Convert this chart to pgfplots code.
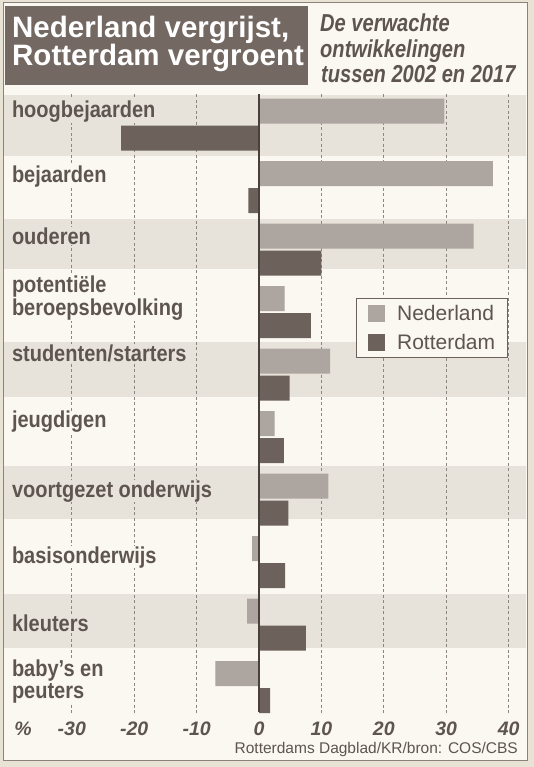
\documentclass[border=0pt]{standalone}
\usepackage{fontspec}
\setmainfont{Liberation Sans}
\usepackage{graphicx}
\usepackage{pgfplots}
\pgfplotsset{compat=1.18}
\usepackage{pgfplotstable}

\definecolor{paper}{HTML}{E9E3D6}
\definecolor{cream}{HTML}{FAF8F1}
\definecolor{stripe}{HTML}{E7E3DB}
\definecolor{nlbar}{HTML}{ADA59F}
\definecolor{rdbar}{HTML}{6D615B}
\definecolor{titlebox}{HTML}{736862}
\definecolor{ink}{HTML}{5F5550}
\definecolor{gridc}{HTML}{8E857E}
\definecolor{framec}{HTML}{8C827B}
\definecolor{zeroc}{HTML}{4A403B}

\pgfplotstableread{
idx nl rd
0 29.7 -22.1
1 37.5 -1.7
2 34.4 10.0
3 4.1 8.3
4 11.4 4.9
5 2.5 4.0
6 11.1 4.7
7 -1.1 4.2
8 -1.9 7.5
9 -7.0 1.8
}\datatable

\newcommand{\catlabel}[1]{\scalebox{0.87}[1]{#1}}
\tikzset{cat/.style={anchor=base west, inner sep=0.5pt, text=ink, font=\fontsize{23}{23}\selectfont\bfseries}}

\begin{document}
\begin{tikzpicture}
\begin{scope}[x=1pt,y=-1pt]
\path[use as bounding box] (0,0) rectangle (534,767);
\fill[paper] (0,0) rectangle (534,767);
\fill[cream] (3,3) rectangle (527,760);
% background bands behind alternate categories
\fill[stripe] (4,95) rectangle (526,156);
\fill[stripe] (4,219) rectangle (526,269);
\fill[stripe] (4,342) rectangle (526,397);
\fill[stripe] (4,466) rectangle (526,519);
\fill[stripe] (4,594) rectangle (526,648);
\draw[framec, line width=1pt] (3,3) rectangle (527,760);
\fill[titlebox] (5,6) rectangle (308,85);
\node[anchor=base west, text=white, font=\fontsize{29.5}{29.5}\selectfont\bfseries, inner sep=0pt] at (12,37.5) {Nederland vergrijst,};
\node[anchor=base west, text=white, font=\fontsize{29.5}{29.5}\selectfont\bfseries, inner sep=0pt] at (12,66) {Rotterdam vergroent};
\node[anchor=base west, text=ink, font=\fontsize{24.5}{24.5}\selectfont\bfseries\itshape, inner sep=0pt] at (320,32) {\scalebox{0.82}[1]{De verwachte}};
\node[anchor=base west, text=ink, font=\fontsize{24.5}{24.5}\selectfont\bfseries\itshape, inner sep=0pt] at (320,58) {\scalebox{0.82}[1]{ontwikkelingen}};
\node[anchor=base west, text=ink, font=\fontsize{24.5}{24.5}\selectfont\bfseries\itshape, inner sep=0pt] at (321,83) {\scalebox{0.82}[1]{tussen 2002 en 2017}};
\end{scope}

\begin{axis}[
  at={(5pt,-94pt)}, anchor=north west,
  scale only axis, width=521pt, height=621pt,
  xmin=-40.71, xmax=42.79, ymin=-0.488, ymax=9.448, y dir=reverse,
  axis line style={draw=none},
  xtick={-30,-20,-10,0,10,20,30,40},
  ytick=\empty,
  major tick length=0pt,
  xmajorgrids,
  major grid style={gridc, dash pattern=on 3pt off 2.5pt, line width=0.8pt},
  xticklabel style={anchor=base, yshift=-20pt, text=ink, font=\fontsize{19.5}{19.5}\selectfont\bfseries\itshape},
  /pgf/number format/assume math mode=true,
  xbar, bar width=0.4, bar shift=0pt,
  clip=false,
  legend image code/.code={\fill[#1] (0pt,-8.5pt) rectangle (17pt,8.5pt);},
  legend style={at={(axis cs:15.5,2.776)}, anchor=north west, draw=rdbar, line width=0.8pt, fill=cream,
    font=\fontsize{21}{21}\selectfont, text=ink, inner xsep=12pt, inner ysep=5pt, row sep=8pt,
    nodes={inner xsep=0pt, inner ysep=2pt},
    /tikz/every odd column/.append style={column sep=12pt}},
  legend cell align=left,
]
\node[cat, fill=stripe] at (axis cs:-39.7,-0.117) {\catlabel{hoogbejaarden}};
\node[cat, fill=cream] at (axis cs:-39.7,0.92) {\catlabel{bejaarden}};
\node[cat, fill=stripe] at (axis cs:-39.7,1.912) {\catlabel{ouderen}};
\node[cat, fill=cream] at (axis cs:-39.7,2.693) {\catlabel{potenti\"ele}};
\node[cat, fill=cream] at (axis cs:-39.7,3.058) {\catlabel{beroepsbevolking}};
\node[cat, fill=stripe] at (axis cs:-39.7,3.794) {\catlabel{studenten/starters}};
\node[cat, fill=cream] at (axis cs:-39.7,4.854) {\catlabel{jeugdigen}};
\node[cat, fill=stripe] at (axis cs:-39.7,5.96) {\catlabel{voortgezet onderwijs}};
\node[cat, fill=cream] at (axis cs:-39.7,7.016) {\catlabel{basisonderwijs}};
\node[cat, fill=stripe] at (axis cs:-39.7,8.112) {\catlabel{kleuters}};
\node[cat, fill=cream] at (axis cs:-39.7,8.835) {\catlabel{baby's en}};
\node[cat, fill=cream] at (axis cs:-39.7,9.188) {\catlabel{peuters}};

\addplot[fill=nlbar, draw=none] table[x=nl, y expr=\thisrow{idx}-0.216] {\datatable};
\addplot[fill=rdbar, draw=none] table[x=rd, y expr=\thisrow{idx}+0.216] {\datatable};
\addplot[sharp plot, no marks, zeroc, line width=1.4pt, forget plot] coordinates {(0,-0.488) (0,9.4)};
\legend{Nederland, Rotterdam}
\end{axis}

\begin{scope}[x=1pt,y=-1pt]
\node[anchor=base, text=ink, font=\fontsize{19.5}{19.5}\selectfont\bfseries\itshape, inner sep=0pt] at (23,735) {\%};
\node[anchor=base east, text=ink, font=\fontsize{15.5}{15.5}\selectfont, inner sep=0pt] at (518,753) {Rotterdams Dagblad/KR/bron: COS/CBS};
\end{scope}
\end{tikzpicture}
\end{document}
